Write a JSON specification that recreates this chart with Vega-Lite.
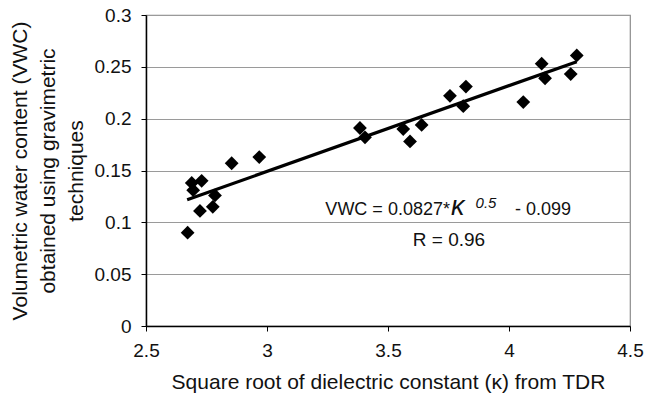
{
  "$schema": "https://vega.github.io/schema/vega-lite/v6.json",
  "width": 484,
  "height": 311,
  "autosize": "none",
  "padding": {"left": 146, "top": 15, "right": 17, "bottom": 80},
  "background": "white",
  "config": {
    "font": "Liberation Sans",
    "view": {"stroke": "#8c8c8c", "strokeWidth": 1.2},
    "axis": {
      "labelFont": "Liberation Sans",
      "titleFont": "Liberation Sans",
      "labelColor": "#111",
      "titleColor": "#111",
      "labelFontSize": 19,
      "titleFontSize": 21,
      "titleFontWeight": "normal",
      "domainColor": "#000",
      "domainWidth": 1.5,
      "tickColor": "#000",
      "tickSize": 5,
      "gridColor": "#9a9a9a",
      "gridWidth": 1
    }
  },
  "datasets": {
    "points": [
      {"k": 2.672, "vwc": 0.090},
      {"k": 2.689, "vwc": 0.138},
      {"k": 2.695, "vwc": 0.131},
      {"k": 2.730, "vwc": 0.140},
      {"k": 2.723, "vwc": 0.111},
      {"k": 2.776, "vwc": 0.115},
      {"k": 2.785, "vwc": 0.126},
      {"k": 2.854, "vwc": 0.157},
      {"k": 2.968, "vwc": 0.163},
      {"k": 3.384, "vwc": 0.191},
      {"k": 3.405, "vwc": 0.182},
      {"k": 3.563, "vwc": 0.190},
      {"k": 3.591, "vwc": 0.178},
      {"k": 3.639, "vwc": 0.194},
      {"k": 3.756, "vwc": 0.222},
      {"k": 3.822, "vwc": 0.231},
      {"k": 3.811, "vwc": 0.212},
      {"k": 4.059, "vwc": 0.216},
      {"k": 4.135, "vwc": 0.253},
      {"k": 4.149, "vwc": 0.239},
      {"k": 4.255, "vwc": 0.243},
      {"k": 4.280, "vwc": 0.261}
    ],
    "fit": [
      {"k": 2.67, "vwc": 0.1218},
      {"k": 4.28, "vwc": 0.2550}
    ]
  },
  "layer": [
    {
      "data": {"name": "points"},
      "mark": {"type": "point", "shape": "diamond", "filled": true, "color": "#000", "size": 190, "opacity": 1},
      "encoding": {
        "x": {
          "field": "k", "type": "quantitative",
          "scale": {"domain": [2.5, 4.5], "nice": false},
          "axis": {
            "values": [2.5, 3, 3.5, 4, 4.5],
            "format": "~g",
            "grid": false,
            "labelPadding": 10,
            "labelFlush": false,
            "title": "Square root of dielectric constant (κ) from TDR",
            "titlePadding": 11
          }
        },
        "y": {
          "field": "vwc", "type": "quantitative",
          "scale": {"domain": [0, 0.3], "nice": false},
          "axis": {
            "values": [0, 0.05, 0.1, 0.15, 0.2, 0.25, 0.3],
            "format": "~g",
            "labelPadding": 10,
            "labelFlush": false,
            "title": ["Volumetric water content (VWC)", "obtained using gravimetric", "techniques"],
            "titleLineHeight": 28,
            "titlePadding": 8
          }
        }
      }
    },
    {
      "data": {"name": "fit"},
      "mark": {"type": "line", "color": "#000", "strokeWidth": 3.2},
      "encoding": {
        "x": {"field": "k", "type": "quantitative"},
        "y": {"field": "vwc", "type": "quantitative"}
      }
    },
    {
      "data": {"values": [{}]},
      "mark": {"type": "text", "align": "right", "baseline": "alphabetic", "fontSize": 18, "color": "#111"},
      "encoding": {
        "x": {"datum": 3.756},
        "y": {"datum": 0.107},
        "text": {"value": "VWC = 0.0827*"}
      }
    },
    {
      "data": {"values": [{}]},
      "mark": {"type": "text", "align": "left", "baseline": "alphabetic", "fontSize": 27, "fontStyle": "italic", "color": "#111", "dx": 1},
      "encoding": {
        "x": {"datum": 3.756},
        "y": {"datum": 0.107},
        "text": {"value": "κ"}
      }
    },
    {
      "data": {"values": [{}]},
      "mark": {"type": "text", "align": "left", "baseline": "alphabetic", "fontSize": 15, "fontStyle": "italic", "color": "#111"},
      "encoding": {
        "x": {"datum": 3.862},
        "y": {"datum": 0.1135},
        "text": {"value": "0.5"}
      }
    },
    {
      "data": {"values": [{}]},
      "mark": {"type": "text", "align": "left", "baseline": "alphabetic", "fontSize": 18, "color": "#111"},
      "encoding": {
        "x": {"datum": 4.025},
        "y": {"datum": 0.107},
        "text": {"value": "- 0.099"}
      }
    },
    {
      "data": {"values": [{}]},
      "mark": {"type": "text", "align": "center", "baseline": "alphabetic", "fontSize": 19, "color": "#111"},
      "encoding": {
        "x": {"datum": 3.752},
        "y": {"datum": 0.077},
        "text": {"value": "R = 0.96"}
      }
    }
  ]
}
